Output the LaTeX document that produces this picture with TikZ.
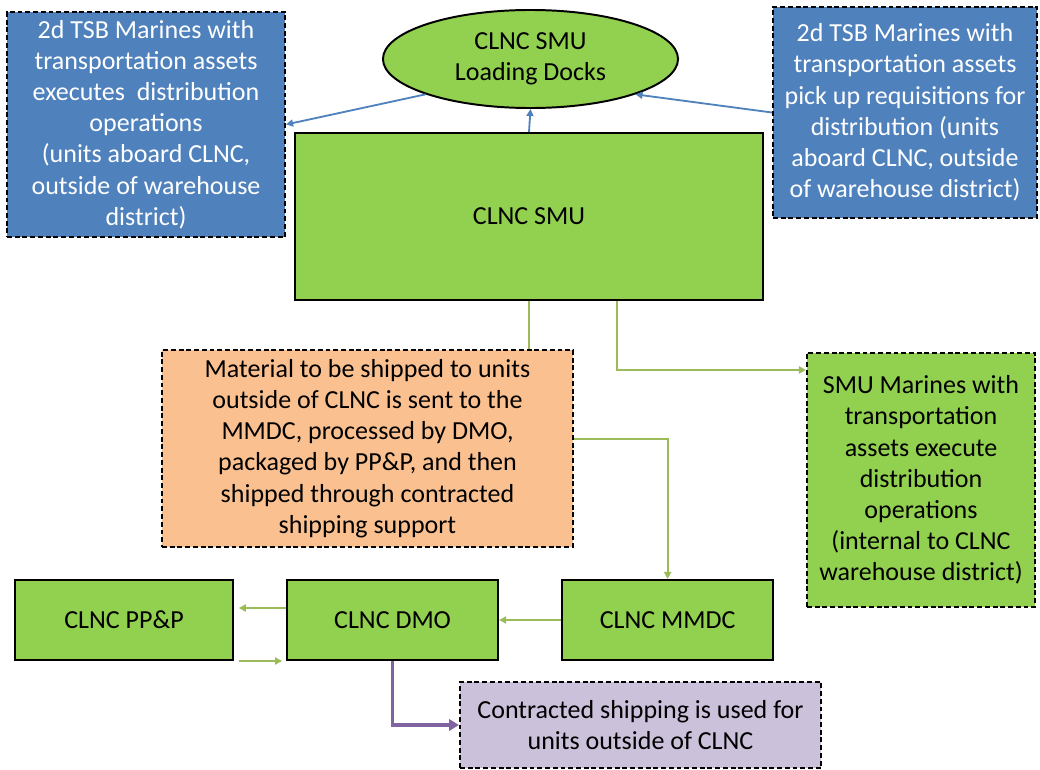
\documentclass[tikz,border=0pt]{standalone}
\usepackage{fontspec}
\setmainfont{Carlito}
\usepackage{tikz}
\usetikzlibrary{shapes.geometric, arrows.meta, positioning}
\definecolor{boxblue}{HTML}{4F81BD}
\definecolor{boxgreen}{HTML}{92D050}
\definecolor{boxorange}{HTML}{FAC090}
\definecolor{boxpurple}{HTML}{CCC1DA}
\definecolor{linegreen}{HTML}{9BBB59}
\definecolor{linepurple}{HTML}{8064A2}
\tikzstyle{bluearrow} = [draw=boxblue, line width=1.3pt, -{Triangle[length=5pt,width=5pt]}]
\tikzstyle{greenarrow} = [draw=linegreen, line width=1.6pt, -{Triangle[length=5pt,width=5pt]}]
\tikzstyle{greenline} = [draw=linegreen, line width=1.6pt]
\tikzstyle{purplearrow} = [draw=linepurple, line width=2.6pt, -{Triangle[length=7pt,width=8pt]}]
\tikzset{
	txt/.style = {align=center, inner sep=0pt, font=\fontsize{18.5}{22.2}\selectfont},
	dashbox/.style = {txt, rectangle, draw=black, line width=1.4pt, dash pattern=on 3.5pt off 2pt},
	solidbox/.style = {txt, rectangle, draw=black, line width=1.4pt, fill=boxgreen},
	bluenote/.style = {dashbox, fill=boxblue, text=white},
	greennote/.style = {dashbox, fill=boxgreen},
	orangenote/.style = {dashbox, fill=boxorange},
	purplenote/.style = {dashbox, fill=boxpurple}
}

\begin{document}
\begin{tikzpicture}[x=0.025cm, y=-0.025cm]
\useasboundingbox (0,0) rectangle (1040,770);
%----------------------------------------------------------------------------
% Top row
\node (leftBlue) [bluenote, minimum width=6.95cm, minimum height=5.625cm] at (146,124.5)
	{2d TSB Marines with\\ transportation assets\\ executes~ distribution\\ operations\\ (units aboard CLNC,\\ outside of warehouse\\ district)};
\node (dock) [txt, ellipse, draw=black, line width=1.4pt, fill=boxgreen, minimum width=7.375cm, minimum height=2.45cm] at (530.5,59)
	{CLNC SMU\\ Loading Docks};
\node (rightBlue) [bluenote, minimum width=6.6cm, minimum height=5.275cm] at (905,112.5)
	{2d TSB Marines with\\ transportation assets\\ pick up requisitions for\\ distribution (units\\ aboard CLNC, outside\\ of warehouse district)};
\node (smu) [solidbox, minimum width=11.7cm, minimum height=4.175cm] at (529,216.5) {CLNC SMU};

%----------------------------------------------------------------------------
% Middle row
\node (orange) [orangenote, minimum width=10.275cm, minimum height=4.925cm] at (367.5,448.5)
	{Material to be shipped to units\\ outside of CLNC is sent to the\\ MMDC, processed by DMO,\\ packaged by PP\&P, and then\\ shipped through contracted\\ shipping support};
\node (smuMarines) [greennote, minimum width=5.7cm, minimum height=6.35cm] at (921,480)
	{SMU Marines with\\ transportation\\ assets execute\\ distribution\\ operations\\ (internal to CLNC\\ warehouse district)};

%----------------------------------------------------------------------------
% Bottom row
\node (ppp) [solidbox, minimum width=5.45cm, minimum height=2cm] at (124,620) {CLNC PP\&P};
\node (dmo) [solidbox, minimum width=5.275cm, minimum height=2cm, right of=ppp, node distance=6.7125cm] {CLNC DMO};
\node (mmdc) [solidbox, minimum width=5.275cm, minimum height=2cm, right of=dmo, node distance=6.875cm] {CLNC MMDC};
\node (contract) [purplenote, minimum width=9.025cm, minimum height=2.15cm] at (640.5,725)
	{Contracted shipping is used for\\ units outside of CLNC};

%----------------------------------------------------------------------------
% Lines
\draw [bluearrow] (dock.south west) -- (leftBlue.east);
\draw [bluearrow] (smu.north) -- (dock.south);
\draw [bluearrow] (rightBlue.west) -- (dock.south east);

\draw [greenline] (smu.south) -- (smu.south |- orange.north);
\draw [greenarrow] ([xshift=2.2cm]smu.south) |- ([yshift=-0.45cm]smuMarines.north west);
\draw [greenarrow] ([yshift=0.24cm]orange.east) -| (mmdc.north);

\draw [greenarrow] (mmdc.west) -- (dmo.east);
\draw [greenarrow, shorten >=0.12cm] ([yshift=0.3cm]dmo.west) -- ([yshift=0.3cm]ppp.east);
\draw [greenarrow, shorten <=0.12cm, shorten >=0.1cm] (ppp.south east) -- (dmo.south west);

\draw [purplearrow] (dmo.south) |- (contract.west);
\end{tikzpicture}
\end{document}
